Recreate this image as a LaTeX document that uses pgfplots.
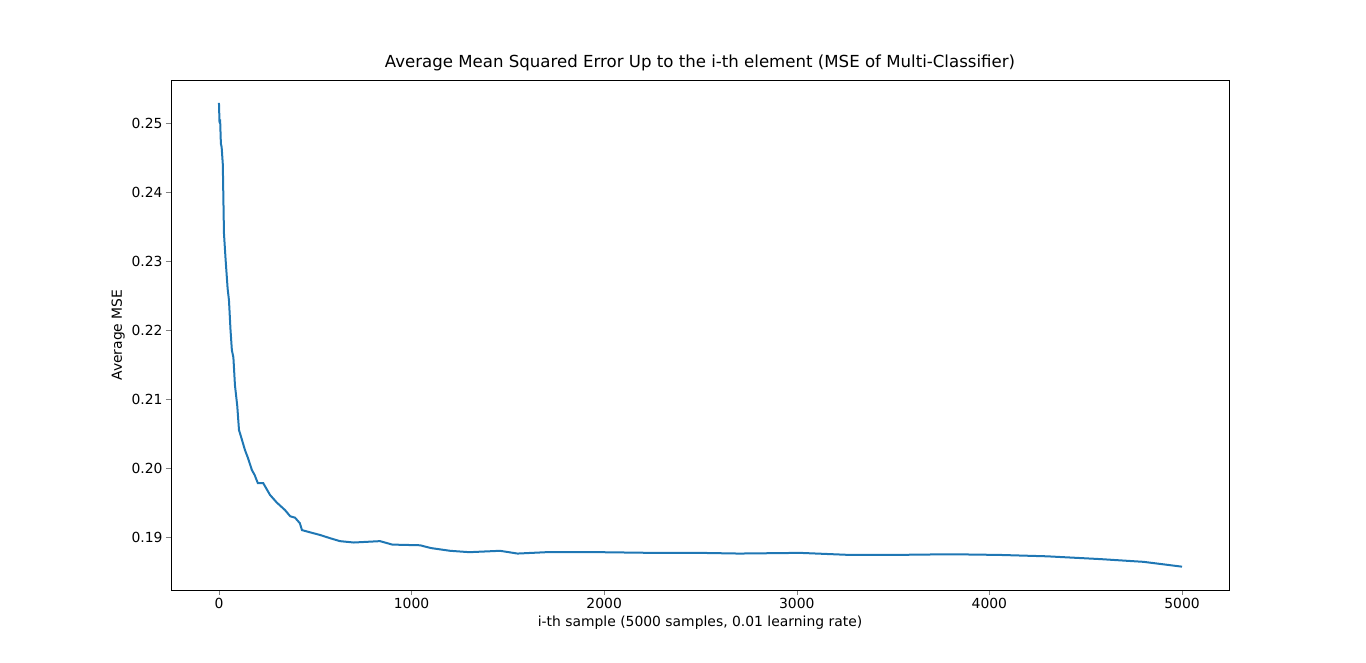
\documentclass[border=0pt]{standalone}
\usepackage{pgfplots}
\pgfplotsset{compat=1.18}
\usepackage{fontspec}
\setmainfont{DejaVu Sans}
\definecolor{mplblue}{HTML}{1F77B4}
\begin{document}
\begin{tikzpicture}
\useasboundingbox (-171pt,-73pt) rectangle (1195pt,590pt);
\begin{axis}[
  at={(0,0)}, anchor=south west, scale only axis,
  width=1058pt, height=510pt,
  xmin=-249, xmax=5244, ymin=0.18232, ymax=0.25623,
  xtick={0,1000,2000,3000,4000,5000},
  xticklabel style={/pgf/number format/1000 sep={}},
  ytick={0.19,0.20,0.21,0.22,0.23,0.24,0.25},
  yticklabel style={/pgf/number format/.cd,fixed,precision=2,fixed zerofill},
  scaled y ticks=false,
  /pgf/number format/assume math mode=true,
  tick label style={font=\fontsize{13.9}{16}\selectfont},
  label style={font=\fontsize{13.9}{16}\selectfont},
  title style={font=\fontsize{16.6}{19}\selectfont},
  tick align=outside, tick pos=lower, major tick length=5pt,
  title={Average Mean Squared Error Up to the i-th element (MSE of Multi-Classifier)},
  xlabel={i-th sample (5000 samples, 0.01 learning rate)},
  ylabel={Average MSE},
]
\addplot[mplblue, line width=2pt] coordinates {
(0,0.2529)(3,0.2500)(6,0.2505)(10,0.2470)(14,0.2465)(20,0.2440)(26,0.2340)(35,0.2300)(45,0.2260)(52,0.2243)(60,0.2200)(67,0.2171)(75,0.2160)(83,0.2120)(95,0.2090)(104,0.2055)(115,0.2045)(135,0.2026)(150,0.2015)(171,0.1997)(185,0.1990)(202,0.1978)(230,0.1978)(265,0.1961)(300,0.1950)(343,0.1939)(370,0.1930)(395,0.1928)(420,0.1920)(431,0.1910)(470,0.1907)(524,0.1903)(580,0.1898)(628,0.1894)(700,0.1892)(836,0.1894)(900,0.1889)(1044,0.1888)(1100,0.1884)(1200,0.1880)(1300,0.1878)(1459,0.1880)(1550,0.1876)(1700,0.1878)(1978,0.1878)(2250,0.1877)(2497,0.1877)(2700,0.1876)(3017,0.1877)(3276,0.1874)(3500,0.1874)(3800,0.1875)(4055,0.1874)(4300,0.1872)(4574,0.1868)(4800,0.1864)(5000,0.1857)
};
\end{axis}
\end{tikzpicture}
\end{document}
